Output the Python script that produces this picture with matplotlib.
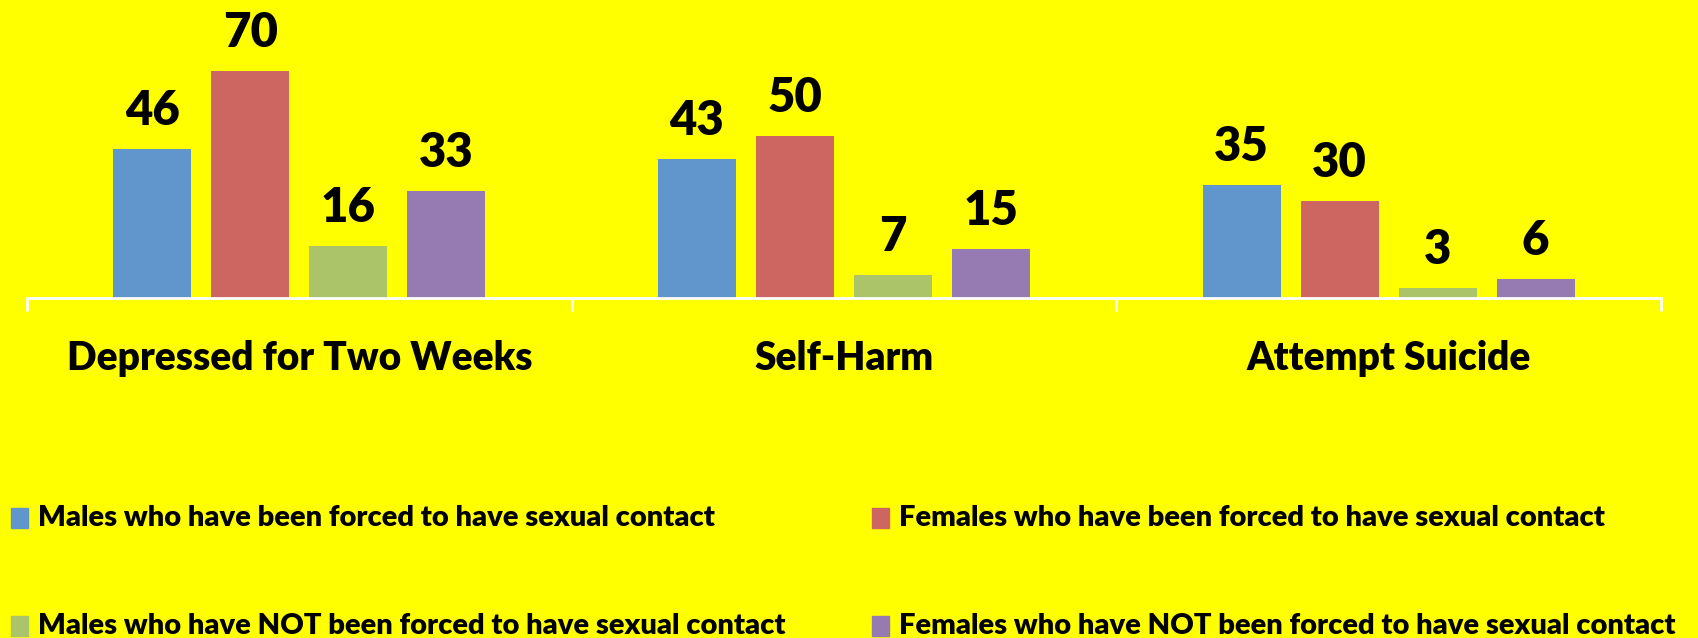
import matplotlib.pyplot as plt
from matplotlib.patches import Rectangle

categories = ['Depressed for Two Weeks', 'Self-Harm', 'Attempt Suicide']
series_names = ['Males who have been forced to have sexual contact',
                'Females who have been forced to have sexual contact',
                'Males who have NOT been forced to have sexual contact',
                'Females who have NOT been forced to have sexual contact']
males_forced = [46, 43, 35]
females_forced = [70, 50, 30]
males_not = [16, 7, 3]
females_not = [33, 15, 6]
colors = ['#6096CB', '#CD6660', '#ABC46A', '#967BB3']

series = [males_forced, females_forced, males_not, females_not]

plt.rcParams['font.family'] = ['Lato', 'DejaVu Sans']

W, H = 1698, 638
fig = plt.figure(figsize=(W / 100, H / 100), dpi=100, facecolor='#FFFF00')
ax = fig.add_axes([27 / W, (H - 298) / H, (1661 - 27) / W, 259 / H])
ax.set_facecolor('#FFFF00')

step = 0.18
width = 0.143
for i, (vals, c) in enumerate(zip(series, colors)):
    xs = [k + (i - 1.5) * step for k in range(len(categories))]
    ax.bar(xs, vals, width=width, color=c, zorder=2)
    for x, v in zip(xs, vals):
        ax.text(x, v + 7.4, str(v), ha='center', va='baseline',
                fontsize=34, fontweight='heavy', color='black')

ax.set_xlim(-0.5, len(categories) - 0.5)
ax.set_ylim(0, 80)
for s in ['top', 'right', 'left']:
    ax.spines[s].set_visible(False)
ax.spines['bottom'].set_color('white')
ax.spines['bottom'].set_linewidth(2)
ax.set_yticks([])
ax.set_xticks([k - 0.5 for k in range(len(categories) + 1)])
ax.set_xticklabels([])
ax.tick_params(axis='x', colors='white', length=9, width=2, direction='out')

for k, name in enumerate(categories):
    ax.text(k, -0.278, name, transform=ax.get_xaxis_transform(),
            ha='center', va='baseline', fontsize=28, fontweight='heavy')

# legend drawn by hand: two rows, two columns
leg_x = [11, 872]
leg_y = [518, 626]
for i, (name, c) in enumerate(zip(series_names, colors)):
    col = i % 2
    row = i // 2
    x0 = leg_x[col]
    yc = leg_y[row]
    fig.patches.append(Rectangle((x0 / W, (H - yc - 10) / H), 17 / W, 20 / H,
                                 transform=fig.transFigure, color=c))
    fig.text((x0 + 27) / W, (H - yc) / H, name, ha='left', va='center',
             fontsize=21, fontweight='heavy')

fig.savefig('out.png', dpi=100, facecolor=fig.get_facecolor())
